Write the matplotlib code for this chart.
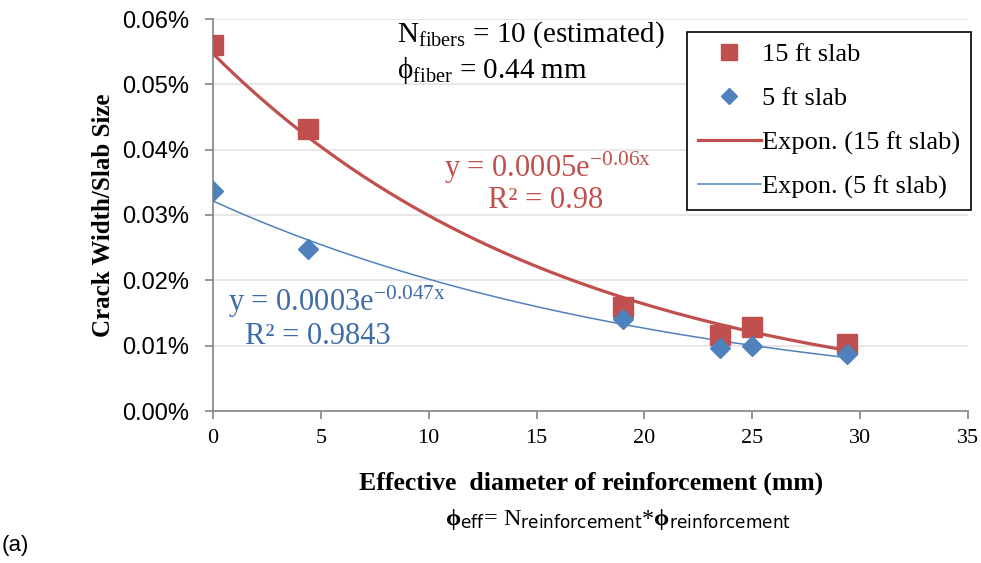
import matplotlib
matplotlib.use("Agg")
import matplotlib.pyplot as plt
import numpy as np
from matplotlib.ticker import PercentFormatter, MultipleLocator
from matplotlib.lines import Line2D

# data (crack width / slab size as a fraction)
eff_diameter = [0, 4.4, 19, 23.5, 25, 29.4]
slab15 = [0.000560, 0.000432, 0.000159, 0.000116, 0.000129, 0.000103]
slab5 = [0.000337, 0.000248, 0.000141, 0.000097, 0.000099, 0.000087]

red = "#C0504D"
blue = "#4F81BD"
serif = ["Liberation Serif", "DejaVu Serif"]

plt.rcParams["mathtext.fontset"] = "custom"
plt.rcParams["mathtext.rm"] = "Liberation Serif"
plt.rcParams["mathtext.it"] = "Liberation Serif:italic"
plt.rcParams["mathtext.bf"] = "Liberation Serif:bold"
plt.rcParams["mathtext.sf"] = "Liberation Sans Narrow"


def expon_fit(x, y):
    # same as an Excel exponential trendline: linear fit on log(y)
    b, a = np.polyfit(x, np.log(y), 1)
    xs = np.linspace(min(x), max(x), 200)
    return xs, np.exp(a) * np.exp(b * xs)


fig = plt.figure(figsize=(9.81, 5.63), dpi=100)
ax = fig.add_axes([213 / 981, 1 - 411 / 563, (968 - 213) / 981, (411 - 19) / 563])

xs, ys = expon_fit(eff_diameter, slab15)
ax.plot(xs, ys, color=red, lw=2.3, zorder=2)
xs, ys = expon_fit(eff_diameter, slab5)
ax.plot(xs, ys, color=blue, lw=1.1, zorder=2)

ax.plot(eff_diameter, slab15, "s", color=red, ms=14, zorder=3)
ax.plot(eff_diameter, slab5, "D", color=blue, ms=10.5, zorder=4)

ax.set_xlim(0, 35)
ax.set_ylim(0, 0.0006)
ax.xaxis.set_major_locator(MultipleLocator(5))
ax.yaxis.set_major_locator(MultipleLocator(0.0001))
ax.yaxis.set_major_formatter(PercentFormatter(xmax=1, decimals=2))
ax.grid(axis="y", color="#E3E3E3", lw=1.2)
ax.set_axisbelow(True)
for s in ["top", "right"]:
    ax.spines[s].set_visible(False)
for s in ["left", "bottom"]:
    ax.spines[s].set_color("#8C8C8C")
    ax.spines[s].set_linewidth(1.3)
ax.tick_params(axis="both", direction="out", length=6, width=1.3, color="#8C8C8C")
ax.tick_params(axis="y", labelsize=17, pad=11)
ax.tick_params(axis="x", labelsize=16, pad=7)
for t in ax.get_yticklabels():
    t.set_family(["Liberation Sans", "DejaVu Sans"])
for t in ax.get_xticklabels():
    t.set_family(serif)

ax.set_ylabel("Crack Width/Slab Size", fontsize=18, fontweight="bold", family=serif, labelpad=5)
fig.text(591 / 981, 1 - 483 / 563, "Effective  diameter of reinforcement (mm)", fontsize=18.5,
         fontweight="bold", family=serif, ha="center", va="center")
fig.text(618 / 981, 1 - 520 / 563,
         r"$\mathbf{\phi}_{\mathsf{eff}}$= N$_{\mathsf{reinforcement}}$*$\mathbf{\phi}_{\mathsf{reinforcement}}$",
         fontsize=17.5, family=serif, ha="center", va="center")
fig.text(2 / 981, 1 - 545 / 563, "(a)", fontsize=16, family=["Liberation Sans", "DejaVu Sans"],
         ha="left", va="center")

fig.text(397 / 981, 1 - 35 / 563, r"N$_{\mathrm{fibers}}$ = 10 (estimated)", fontsize=21,
         family=serif, ha="left", va="center")
fig.text(397 / 981, 1 - 70 / 563, r"$\mathrm{\phi}_{\mathrm{fiber}}$ = 0.44 mm", fontsize=21,
         family=serif, ha="left", va="center")

fig.text(548 / 981, 1 - 168 / 563, r"y = 0.0005e$^{\mathrm{-0.06x}}$", fontsize=22, color=red,
         family=serif, ha="center", va="center")
fig.text(546 / 981, 1 - 201 / 563, "R² = 0.98", fontsize=22, color=red,
         family=serif, ha="center", va="center")
fig.text(228 / 981, 1 - 302 / 563, r"y = 0.0003e$^{\mathrm{-0.047x}}$", fontsize=22, color="#3D6CA8",
         family=serif, ha="left", va="center")
fig.text(245 / 981, 1 - 336 / 563, "R² = 0.9843", fontsize=22, color="#3D6CA8",
         family=serif, ha="left", va="center")

handles = [
    Line2D([], [], ls="none", marker="s", color=red, ms=12),
    Line2D([], [], ls="none", marker="D", color=blue, ms=8),
    Line2D([], [], color=red, lw=2.3),
    Line2D([], [], color=blue, lw=1.1),
]
labels = ["15 ft slab", "5 ft slab", "Expon. (15 ft slab)", "Expon. (5 ft slab)"]
leg = fig.legend(handles, labels, loc="upper right", bbox_to_anchor=(971 / 981, 1 - 32 / 563),
                 prop={"family": serif, "size": 19}, frameon=True, fancybox=False,
                 edgecolor="black", framealpha=1, labelspacing=0.78, handlelength=2.4,
                 handletextpad=0.05, borderpad=0.4, borderaxespad=0)
leg.get_frame().set_linewidth(1.2)

fig.savefig("out.png", dpi=100)
